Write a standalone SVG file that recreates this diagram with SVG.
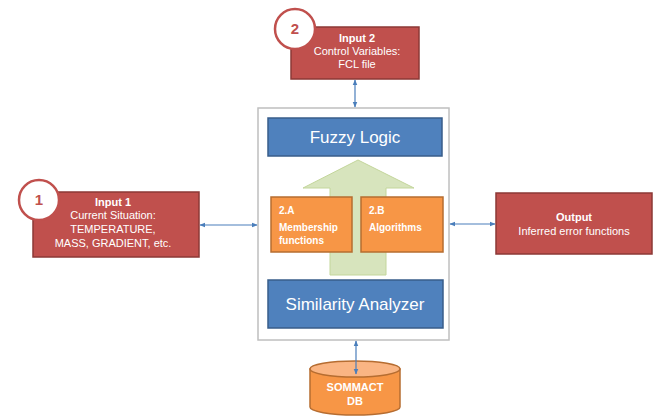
<svg xmlns="http://www.w3.org/2000/svg" width="657" height="419" viewBox="0 0 657 419">
<defs>
<style>
.red{fill:#C0504D;stroke:#8C3836;stroke-width:1.5}
.blue{fill:#4F81BD;stroke:#385D8A;stroke-width:1.5}
.org{fill:#F79646;stroke:#B66D31;stroke-width:1.5}
.circ{fill:#fff;stroke:#C0504D;stroke-width:2.5}
.num{font-family:"Liberation Sans",Arial,sans-serif;font-size:15px;font-weight:bold;fill:#C0504D;text-anchor:middle}
.t{font-family:"Liberation Sans",Arial,sans-serif;font-size:11px;fill:#fff;text-anchor:middle}
.tb{font-family:"Liberation Sans",Arial,sans-serif;font-size:11px;font-weight:bold;fill:#fff;text-anchor:middle}
.big{font-family:"Liberation Sans",Arial,sans-serif;font-size:17px;fill:#fff;text-anchor:middle}
.sm{font-family:"Liberation Sans",Arial,sans-serif;font-size:10px;font-weight:bold;fill:#fff}
.conn{stroke:#4A7EBB;stroke-width:1.2;fill:none;marker-start:url(#ah);marker-end:url(#ah)}
</style>
<marker id="ah" viewBox="0 0 10 10" refX="9" refY="5" markerWidth="6" markerHeight="6" orient="auto-start-reverse" markerUnits="userSpaceOnUse">
<path d="M0,1 L10,5 L0,9 z" fill="#4A7EBB"/>
</marker>
</defs>
<rect width="657" height="419" fill="#fff"/>
<g id="main">
<rect x="258" y="108" width="191" height="232" fill="#fff" stroke="#BFBFBF" stroke-width="1.5"/>
</g>
<g id="fuzzy">
<rect class="blue" x="268" y="118" width="174" height="38"/>
<text class="big" x="355" y="143">Fuzzy Logic</text>
</g>
<g id="arrow">
<path d="M330,275 L330,188 L303,188 L358,160 L414,188 L386,188 L386,275 Z" fill="#D7E4BD" stroke="#C3D69B" stroke-width="1"/>
</g>
<g id="n2a">
<rect class="org" x="271" y="197" width="81" height="55"/>
<text class="sm" x="279" y="214">2.A</text>
<text class="sm" x="279" y="231">Membership</text>
<text class="sm" x="279" y="244">functions</text>
</g>
<g id="n2b">
<rect class="org" x="361" y="197" width="82" height="55"/>
<text class="sm" x="369" y="214">2.B</text>
<text class="sm" x="369" y="231">Algorithms</text>
</g>
<g id="similarity">
<rect class="blue" x="268" y="280" width="175" height="48"/>
<text class="big" x="355" y="310">Similarity Analyzer</text>
</g>
<g id="input2">
<rect class="red" x="291" y="27" width="128" height="52"/>
<text class="tb" x="357" y="42">Input 2</text>
<text class="t" x="357" y="55">Control Variables:</text>
<text class="t" x="357" y="68">FCL file</text>
<circle class="circ" cx="295" cy="29" r="20"/>
<text class="num" x="295" y="34">2</text>
</g>
<g id="input1">
<rect class="red" x="33" y="192" width="166" height="65"/>
<text class="tb" x="113" y="206">Input 1</text>
<text class="t" x="113" y="219">Current Situation:</text>
<text class="t" x="113" y="233">TEMPERATURE,</text>
<text class="t" x="113" y="247">MASS, GRADIENT, etc.</text>
<circle class="circ" cx="39" cy="200" r="20"/>
<text class="num" x="39" y="205">1</text>
</g>
<g id="output">
<rect class="red" x="496" y="193" width="156" height="61"/>
<text class="tb" x="574" y="221">Output</text>
<text class="t" x="574" y="235">Inferred error functions</text>
</g>
<g id="db">
<path d="M310,369 L310,407 A45,8 0 0 0 400,407 L400,369 Z" fill="#F79646" stroke="#B66D31" stroke-width="1.5"/>
<ellipse cx="355" cy="369" rx="45" ry="8" fill="#FAB583" stroke="#B66D31" stroke-width="1.5"/>
<text class="tb" x="355" y="391">SOMMACT</text>
<text class="tb" x="355" y="405">DB</text>
</g>
<g id="connectors">
<line class="conn" x1="355" y1="80" x2="355" y2="107"/>
<line class="conn" x1="200" y1="225" x2="257" y2="225"/>
<line class="conn" x1="450" y1="224" x2="495" y2="224"/>
<line class="conn" x1="356" y1="341" x2="356" y2="374"/>
</g>
</svg>
